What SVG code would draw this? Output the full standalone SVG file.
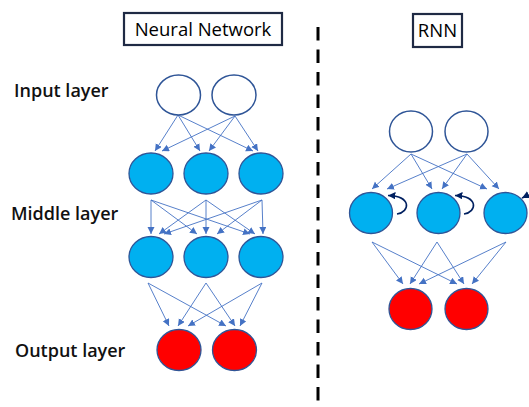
<svg xmlns="http://www.w3.org/2000/svg" width="529" height="407" viewBox="0 0 529 407">
<defs>
<style>
.lbl{font-family:"Open Sans","Liberation Sans",sans-serif;font-weight:600;font-size:18px;fill:#111}
.hdr{font-family:"Open Sans","Liberation Sans",sans-serif;font-weight:500;font-size:18.5px;fill:#000}
.box{fill:#fff;stroke:#1F2A44;stroke-width:2.2}
.in{fill:#fff;stroke:#2F5597;stroke-width:1.5}
.mid{fill:#00B0F0;stroke:#2F5597;stroke-width:1.3}
.out{fill:#FF0000;stroke:#2F5597;stroke-width:1.3}
.ar line{stroke:#4472C4;stroke-width:0.9;marker-end:url(#ah)}
.loop{fill:none;stroke:#002060;stroke-width:1.6;marker-end:url(#lh)}
</style>
<marker id="ah" markerUnits="userSpaceOnUse" markerWidth="8" markerHeight="8" refX="7" refY="3.5" orient="auto">
<path d="M0,0 L7,3.5 L0,7 Z" fill="#4472C4"/>
</marker>
<marker id="lh" markerUnits="userSpaceOnUse" markerWidth="9" markerHeight="9" refX="7.5" refY="3.75" orient="auto">
<path d="M0,0 L7.5,3.75 L0,7.5 Z" fill="#002060"/>
</marker>
</defs>
<rect width="529" height="407" fill="#fff"/>

<g id="title-nn"><rect class="box" x="124" y="13" width="158" height="32"/><text class="hdr" x="203" y="36" text-anchor="middle">Neural Network</text></g>
<g id="title-rnn"><rect class="box" x="413" y="14" width="49" height="33"/><text class="hdr" x="437.5" y="37" text-anchor="middle">RNN</text></g>
<g id="divider"><line x1="318" y1="27" x2="318" y2="402" stroke="#000" stroke-width="3" stroke-dasharray="13.5 9"/></g>

<g id="label-input"><text class="lbl" x="14" y="97">Input layer</text></g>
<g id="label-middle"><text class="lbl" x="11" y="220">Middle layer</text></g>
<g id="label-output"><text class="lbl" x="15" y="357">Output layer</text></g>

<g id="connectors" class="ar">
<line x1="178" y1="115" x2="155" y2="151"/>
<line x1="178" y1="115" x2="200" y2="151"/>
<line x1="178" y1="115" x2="253" y2="151"/>
<line x1="235" y1="116" x2="162" y2="151"/>
<line x1="235" y1="116" x2="209" y2="151"/>
<line x1="235" y1="116" x2="258" y2="151"/>

<line x1="151" y1="200" x2="151" y2="234"/>
<line x1="151" y1="200" x2="197" y2="234"/>
<line x1="151" y1="200" x2="250" y2="234"/>
<line x1="206" y1="200" x2="159" y2="234"/>
<line x1="206" y1="200" x2="206" y2="234"/>
<line x1="206" y1="200" x2="255" y2="234"/>
<line x1="262" y1="200" x2="164" y2="234"/>
<line x1="262" y1="200" x2="217" y2="234"/>
<line x1="262" y1="200" x2="263" y2="234"/>

<line x1="148" y1="283" x2="169" y2="326"/>
<line x1="148" y1="283" x2="226" y2="326"/>
<line x1="206" y1="283" x2="178" y2="326"/>
<line x1="206" y1="283" x2="235" y2="326"/>
<line x1="262" y1="283" x2="188" y2="326"/>
<line x1="262" y1="283" x2="240" y2="326"/>

<line x1="411" y1="154" x2="372" y2="189"/>
<line x1="411" y1="154" x2="432" y2="189"/>
<line x1="411" y1="154" x2="487" y2="189"/>
<line x1="467" y1="154" x2="387" y2="189"/>
<line x1="467" y1="154" x2="442" y2="189"/>
<line x1="467" y1="154" x2="499" y2="189"/>

<line x1="372" y1="242" x2="403" y2="284"/>
<line x1="372" y1="242" x2="457" y2="284"/>
<line x1="437" y1="242" x2="410" y2="284"/>
<line x1="437" y1="242" x2="464" y2="284"/>
<line x1="506" y1="242" x2="419" y2="284"/>
<line x1="506" y1="242" x2="472" y2="284"/>

<path class="loop" d="M397,214 C410,212 412,196 388,195.5"/>
<path class="loop" d="M464,214 C477,212 479,196 455,195.5"/>
<path class="loop" d="M545,214 C547,198 536,191 522,198"/>
</g>

<g id="nn-in1"><ellipse class="in" cx="178.5" cy="95" rx="22" ry="20"/></g>
<g id="nn-in2"><ellipse class="in" cx="234" cy="95" rx="22" ry="20"/></g>
<g id="nn-m1a"><ellipse class="mid" cx="151" cy="173.5" rx="22" ry="20.5"/></g>
<g id="nn-m1b"><ellipse class="mid" cx="206" cy="173.5" rx="22" ry="20.5"/></g>
<g id="nn-m1c"><ellipse class="mid" cx="261" cy="173.5" rx="22" ry="20.5"/></g>
<g id="nn-m2a"><ellipse class="mid" cx="151" cy="257" rx="22" ry="20.5"/></g>
<g id="nn-m2b"><ellipse class="mid" cx="206" cy="257" rx="22" ry="20.5"/></g>
<g id="nn-m2c"><ellipse class="mid" cx="261" cy="257" rx="22" ry="20.5"/></g>
<g id="nn-o1"><ellipse class="out" cx="179" cy="350" rx="22" ry="20.5"/></g>
<g id="nn-o2"><ellipse class="out" cx="234.5" cy="350" rx="22" ry="20.5"/></g>

<g id="rnn-in1"><ellipse class="in" cx="411" cy="131.5" rx="21.5" ry="20.5"/></g>
<g id="rnn-in2"><ellipse class="in" cx="466.5" cy="131.5" rx="21.5" ry="20.5"/></g>
<g id="rnn-h1"><ellipse class="mid" cx="371" cy="213" rx="21.5" ry="20.5"/></g>
<g id="rnn-h2"><ellipse class="mid" cx="438.5" cy="213" rx="21.5" ry="20.5"/></g>
<g id="rnn-h3"><ellipse class="mid" cx="505.5" cy="213" rx="21.5" ry="20.5"/></g>
<g id="rnn-o1"><ellipse class="out" cx="410.5" cy="309" rx="21.5" ry="20.5"/></g>
<g id="rnn-o2"><ellipse class="out" cx="466.5" cy="309" rx="21.5" ry="20.5"/></g>
</svg>
